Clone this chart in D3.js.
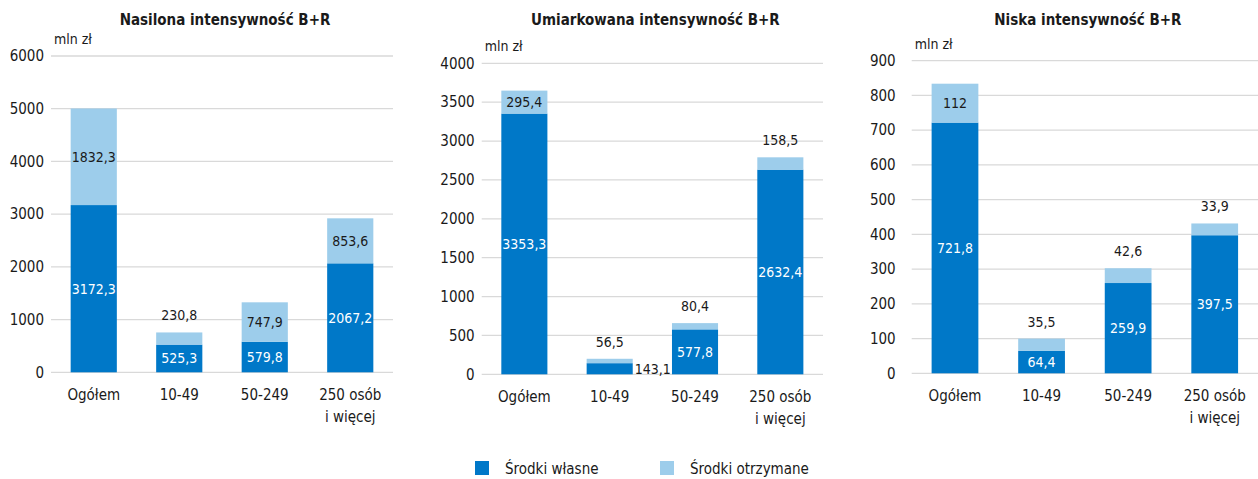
<!DOCTYPE html>
<html>
<head>
<meta charset="utf-8">
<script src="https://cdn.jsdelivr.net/npm/d3@7"></script>
<style>
  body { margin: 0; background: #fff; }
  text { font-family: "DejaVu Sans Condensed", "DejaVu Sans", sans-serif; font-stretch: condensed; fill: #1a1a1a; }
</style>
</head>
<body>
<div id="chart"></div>
<script>
// Data
var categories = ["Ogółem", "10-49", "50-249", "250 osób|i więcej"];
var titles = ["Nasilona intensywność B+R", "Umiarkowana intensywność B+R", "Niska intensywność B+R"];
var seriesNames = ["Środki własne", "Środki otrzymane"];

var own1 = [3172.3, 525.3, 579.8, 2067.2];
var received1 = [1832.3, 230.8, 747.9, 853.6];
var own2 = [3353.3, 143.1, 577.8, 2632.4];
var received2 = [295.4, 56.5, 80.4, 158.5];
var own3 = [721.8, 64.4, 259.9, 397.5];
var received3 = [112, 35.5, 42.6, 33.9];

var yMax = [6000, 4000, 900];
var yStep = [1000, 500, 100];

var w = 1258;
var h = 479;
var darkBlue = "#0078c8";
var lightBlue = "#9dcdeb";
var gridColor = "#d9d9d9";
var fs = "14px";

// panel layout (pixel positions)
var panels = [
  { x0: 51, x1: 393, yTop: 56, yBottom: 372.3, tickGap: 7 },
  { x0: 481.7, x1: 823, yTop: 63.3, yBottom: 374.3, tickGap: 7 },
  { x0: 911.7, x1: 1258, yTop: 60.7, yBottom: 373.3, tickGap: 16 }
];

function fmt(v) {
  return String(v).replace(".", ",");
}

function drawPanel(svg, p, title, own, received, max, step) {
  var g = svg.append("g");

  var xScale = d3.scaleBand()
    .domain(categories)
    .range([p.x0, p.x1])
    .paddingInner(0.46)
    .paddingOuter(0.23);

  var yScale = d3.scaleLinear()
    .domain([0, max])
    .range([p.yBottom, p.yTop]);

  var ticks = d3.range(0, max + step / 2, step);

  // gridlines
  g.selectAll(".grid")
    .data(ticks)
    .enter()
    .append("line")
    .attr("x1", p.x0)
    .attr("x2", p.x1)
    .attr("y1", d => yScale(d))
    .attr("y2", d => yScale(d))
    .attr("stroke", gridColor)
    .attr("stroke-width", 1.3);

  var yAxis = d3.axisLeft(yScale)
    .tickValues(ticks)
    .tickFormat(d3.format("d"))
    .tickSize(0)
    .tickPadding(p.tickGap);

  var ax = g.append("g")
    .attr("transform", "translate(" + p.x0 + ",0)")
    .call(yAxis);
  ax.select(".domain").remove();
  ax.selectAll("text")
    .attr("font-size", null)
    .attr("font-family", null)
    .style("font-size", "15px");

  // unit
  g.append("text")
    .attr("x", p.x0 + 3)
    .attr("y", p.yTop - 12)
    .attr("font-size", fs)
    .text("mln zł");

  // title
  g.append("text")
    .attr("x", (p.x0 + p.x1) / 2 + 3)
    .attr("y", 25)
    .attr("text-anchor", "middle")
    .attr("font-size", "15px")
    .attr("font-weight", "bold")
    .text(title);

  var bw = xScale.bandwidth();

  categories.forEach(function(c, i) {
    var x = xScale(c);
    var yOwnTop = yScale(own[i]);
    var yAllTop = yScale(own[i] + received[i]);

    g.append("rect")
      .attr("x", x)
      .attr("width", bw)
      .attr("y", yOwnTop)
      .attr("height", yScale(0) - yOwnTop)
      .attr("fill", darkBlue);

    g.append("rect")
      .attr("x", x)
      .attr("width", bw)
      .attr("y", yAllTop)
      .attr("height", yOwnTop - yAllTop)
      .attr("fill", lightBlue);

    // own label
    var ownH = yScale(0) - yOwnTop;
    if (ownH >= 20) {
      g.append("text")
        .attr("x", x + bw / 2)
        .attr("y", (yOwnTop + yScale(0)) / 2)
        .attr("dy", "0.35em")
        .attr("text-anchor", "middle")
        .attr("font-size", fs)
        .style("fill", "#fff")
        .text(fmt(own[i]));
    } else {
      g.append("text")
        .attr("x", x + bw + 2)
        .attr("y", (yOwnTop + yScale(0)) / 2)
        .attr("dy", "0.35em")
        .attr("font-size", fs)
        .text(fmt(own[i]));
    }

    // received label
    var recH = yOwnTop - yAllTop;
    g.append("text")
      .attr("x", x + bw / 2)
      .attr("y", recH >= 20 ? (yAllTop + yOwnTop) / 2 : yAllTop - 17)
      .attr("dy", "0.35em")
      .attr("text-anchor", "middle")
      .attr("font-size", fs)
      .text(fmt(received[i]));

    // category label
    var lines = c.split("|");
    lines.forEach(function(l, k) {
      g.append("text")
        .attr("x", x + bw / 2)
        .attr("y", p.yBottom + 28 + k * 22)
        .attr("text-anchor", "middle")
        .attr("font-size", "15px")
        .text(l);
    });
  });
}

function createLegend(svg) {
  var items = [
    { name: seriesNames[0], color: darkBlue, x: 475 },
    { name: seriesNames[1], color: lightBlue, x: 660 }
  ];
  var legend = svg.selectAll(".legend")
    .data(items)
    .enter()
    .append("g")
    .attr("class", "legend");

  legend.append("rect")
    .attr("x", d => d.x)
    .attr("y", 461)
    .attr("width", 14)
    .attr("height", 14)
    .attr("fill", d => d.color);

  legend.append("text")
    .attr("x", d => d.x + 30)
    .attr("y", 474)
    .attr("font-size", "15px")
    .text(d => d.name);
}

function main() {
  var svg = d3.select("#chart")
    .append("svg")
    .attr("width", w)
    .attr("height", h);

  drawPanel(svg, panels[0], titles[0], own1, received1, yMax[0], yStep[0]);
  drawPanel(svg, panels[1], titles[1], own2, received2, yMax[1], yStep[1]);
  drawPanel(svg, panels[2], titles[2], own3, received3, yMax[2], yStep[2]);

  createLegend(svg);
}

window.onload = function() {
  main();
};
</script>
</body>
</html>
